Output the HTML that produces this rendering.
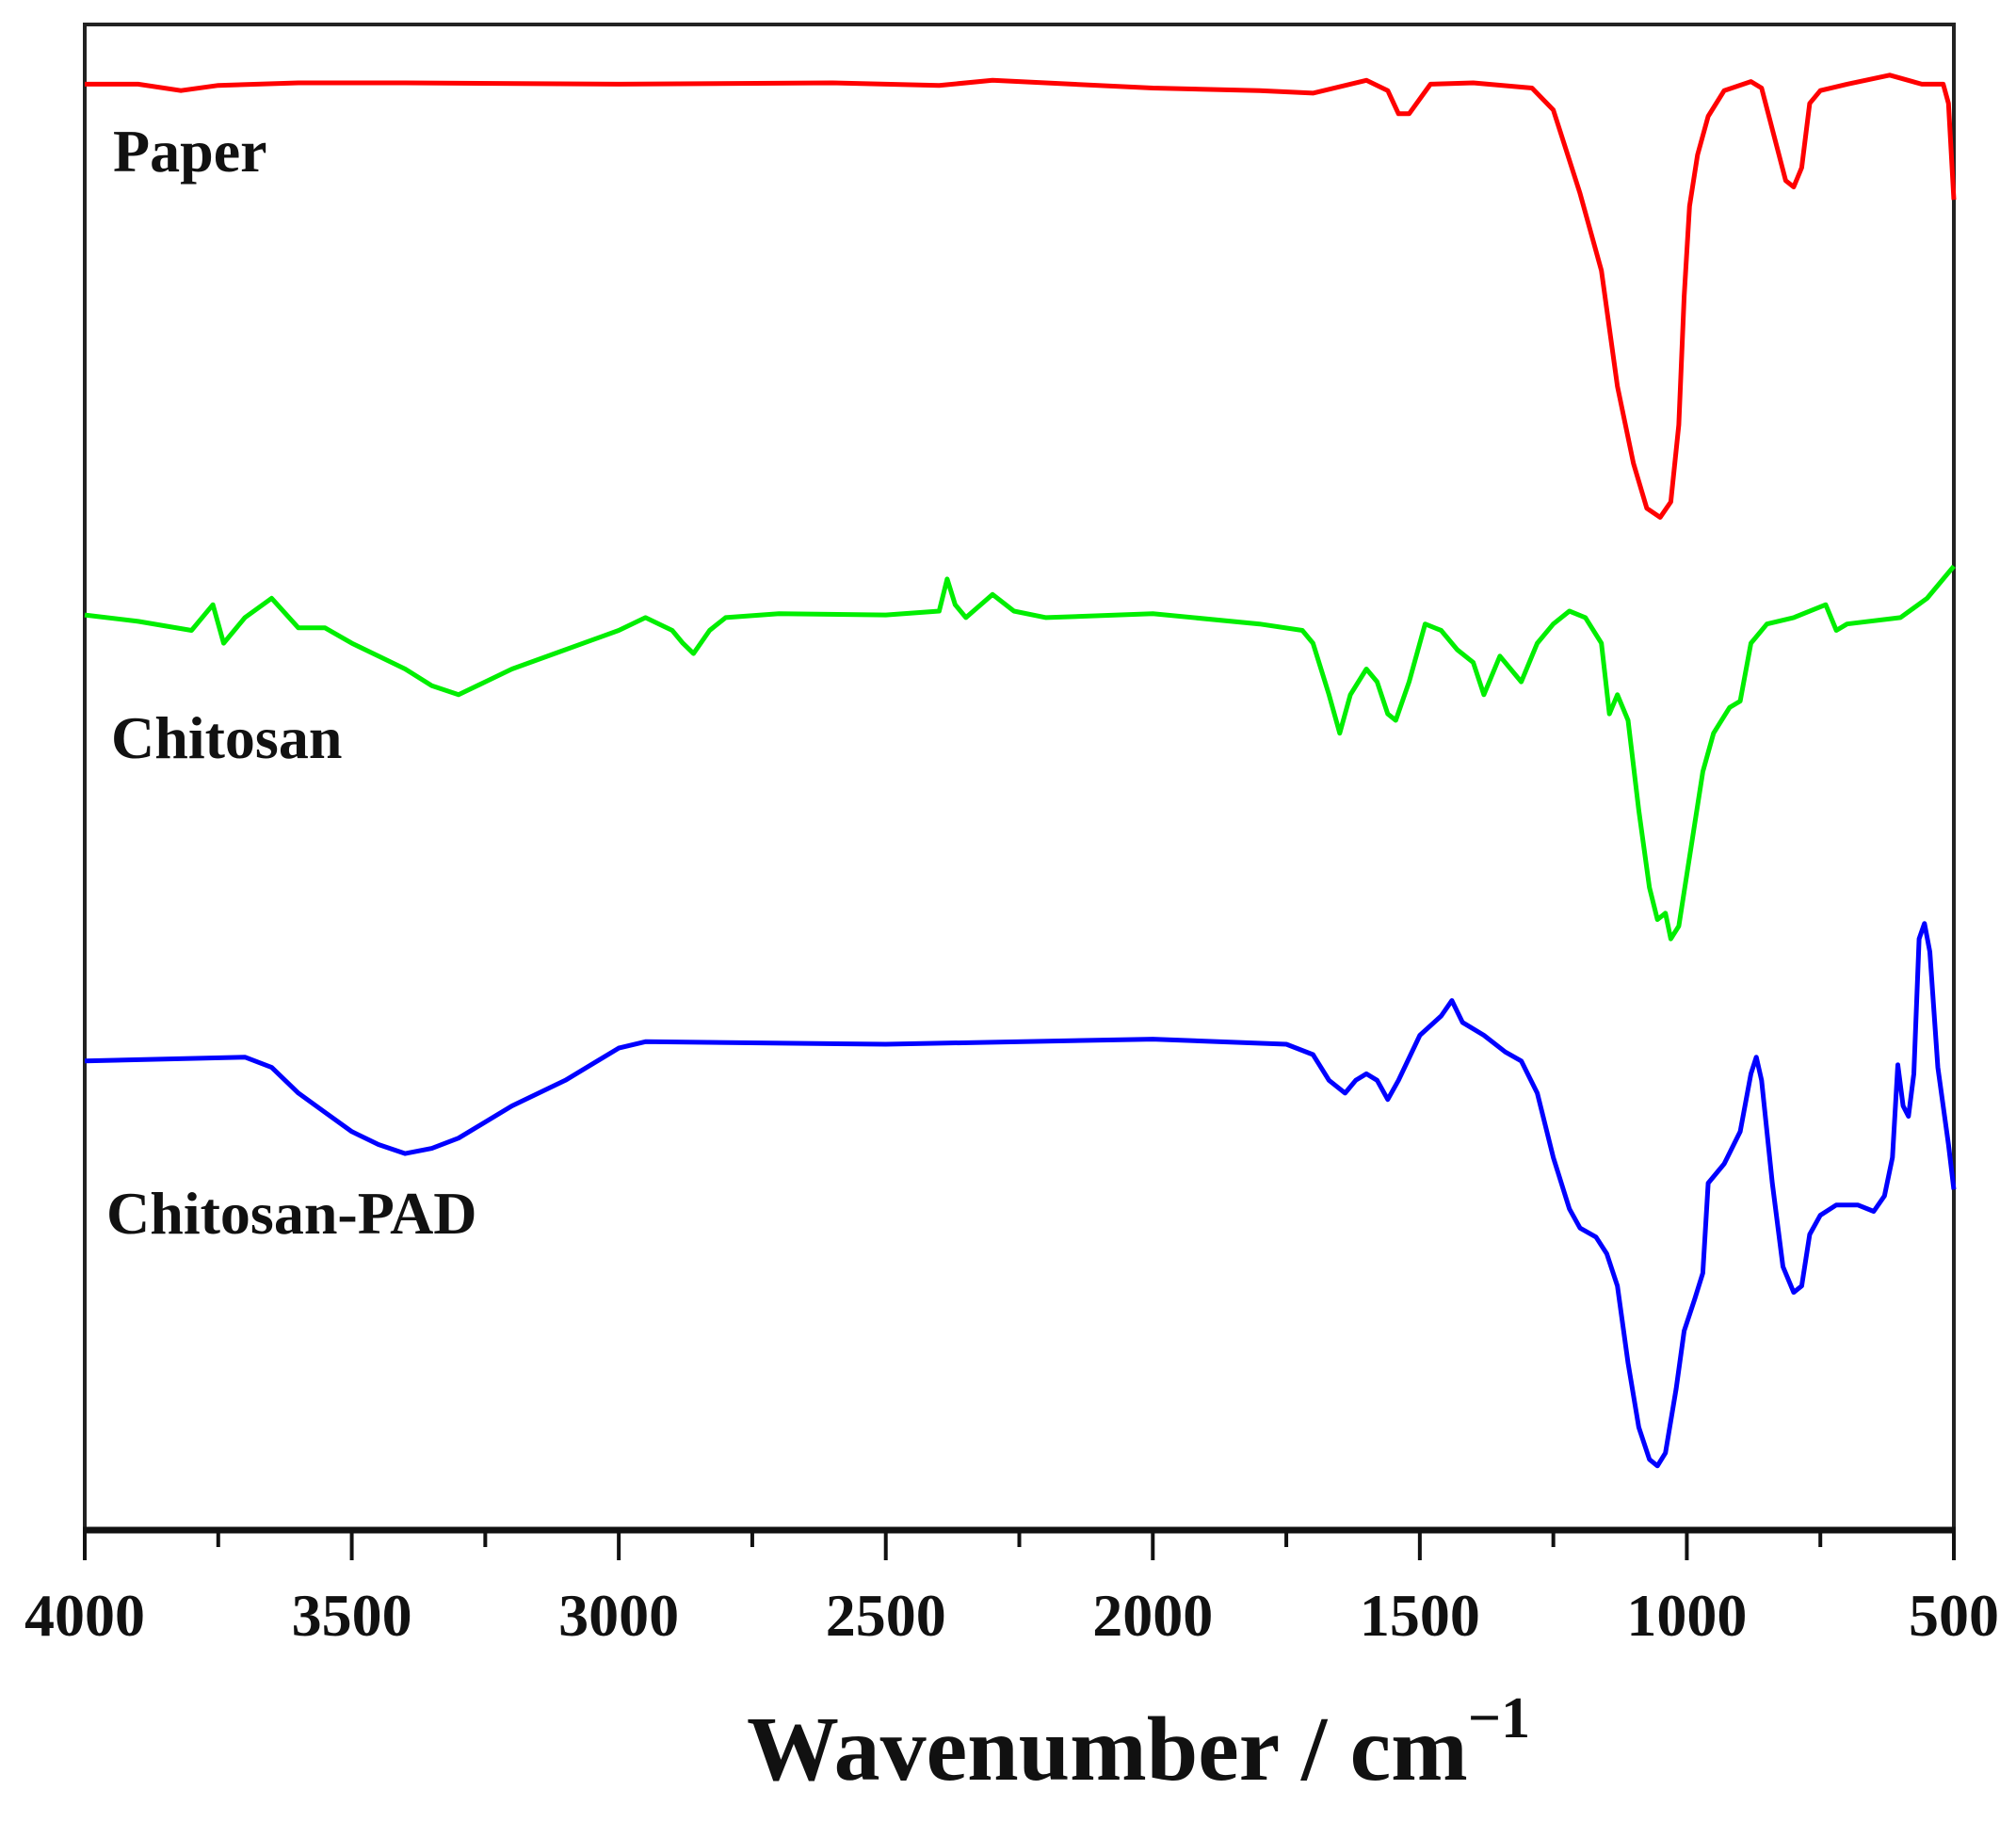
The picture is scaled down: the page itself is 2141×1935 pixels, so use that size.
<!DOCTYPE html>
<html><head><meta charset="utf-8"><style>
html,body{margin:0;padding:0;background:#fff;}
svg text{font-family:"Liberation Serif",serif;font-weight:bold;fill:#111;}
</style></head><body>
<svg id="chart" width="2141" height="1930" viewBox="0 0 2141 1930" xmlns="http://www.w3.org/2000/svg">
<rect x="90" y="26" width="1985" height="1599" fill="none" stroke="#222" stroke-width="4"/>
<line x1="88" y1="1625" x2="2077" y2="1625" stroke="#111" stroke-width="7"/>
<g id="ticks"></g>
<g id="series"></g>
<text x="120" y="182" font-size="64">Paper</text>
<text x="118" y="805" font-size="64">Chitosan</text>
<text x="113" y="1310" font-size="64">Chitosan-PAD</text>
<text x="793" y="1890" font-size="98">Wavenumber / cm<tspan font-size="62" dy="-45">−1</tspan></text>
</svg>
<script>
const tickLabels = [4000,3500,3000,2500,2000,1500,1000,500];
const minorTicks = [3750,3250,2750,2250,1750,1250,750];
const paperWn = [4000,3900,3820,3750,3600,3400,3000,2600,2400,2300,2000,1800,1700,1600,1560,1540,1520,1480,1400,1290,1250,1200,1160,1130,1100,1075,1050,1030,1015,1005,995,980,960,930,880,860,840,815,800,785,770,750,700,620,560,520,510,500];
const paperVal = [1125,1125,1120,1124,1126,1126,1125,1126,1124,1128,1122,1120,1118,1128,1120,1102,1102,1125,1126,1122,1105,1040,980,890,830,795,788,800,860,960,1030,1070,1100,1120,1127,1122,1090,1050,1045,1060,1110,1120,1125,1132,1125,1125,1110,1035];
const chitWn = [4000,3900,3800,3760,3740,3700,3650,3600,3550,3500,3450,3400,3350,3300,3250,3200,3100,3000,2950,2900,2880,2860,2830,2800,2700,2500,2400,2385,2370,2350,2300,2260,2200,2000,1800,1720,1700,1670,1650,1630,1600,1580,1560,1545,1520,1490,1460,1430,1400,1380,1350,1310,1280,1250,1220,1190,1160,1145,1130,1110,1090,1070,1055,1040,1030,1015,1000,985,970,950,920,900,880,850,800,740,720,700,600,550,520,500];
const chitVal = [712,707,700,720,690,710,725,702,702,690,680,670,657,650,660,670,685,700,710,700,690,682,700,710,713,712,715,740,720,710,728,715,710,713,705,700,690,650,620,650,670,660,635,630,660,705,700,685,675,650,680,660,690,705,715,710,690,635,650,630,560,500,475,480,460,470,510,550,590,620,640,645,690,705,710,720,700,705,710,725,740,750];
const padWn = [4000,3700,3650,3600,3550,3500,3450,3400,3350,3300,3200,3100,3000,2950,2500,2000,1750,1700,1670,1640,1620,1600,1580,1560,1540,1500,1460,1440,1420,1380,1340,1310,1280,1250,1220,1200,1170,1150,1130,1110,1090,1070,1055,1040,1020,1005,985,970,960,950,930,900,880,870,860,840,820,800,785,770,750,720,680,650,630,615,605,595,585,575,565,555,545,530,510,500];
const padVal = [365,368,360,340,325,310,300,293,297,305,330,350,375,380,378,382,378,370,350,340,350,355,350,335,350,385,400,412,395,385,372,365,340,290,250,235,228,215,190,130,80,55,50,60,110,155,180,200,270,275,285,310,355,368,350,270,205,185,190,230,245,253,253,248,260,290,362,330,322,355,460,472,450,360,300,265];
const X0=90, X1=2075, YB=1625, K=1.365;
const xs = wn => X0 + (4000 - wn) / 3500 * (X1 - X0);
const ys = v => YB - v * K;
const NS = 'http://www.w3.org/2000/svg';
const tg = document.getElementById('ticks');
tickLabels.forEach(t => {
  const l = document.createElementNS(NS,'line');
  
  
  l.setAttribute('x1',xs(t)); l.setAttribute('x2',xs(t));
  l.setAttribute('y1',YB); l.setAttribute('y2',YB+32);
  l.setAttribute('stroke','#111'); l.setAttribute('stroke-width','4');
  tg.appendChild(l);
  const tx = document.createElementNS(NS,'text');
  
  
  tx.setAttribute('x',xs(t)); tx.setAttribute('y',1737);
  tx.setAttribute('text-anchor','middle'); tx.setAttribute('font-size','64');
  tx.textContent = t;
  tg.appendChild(tx);
});
minorTicks.forEach(t => {
  const l = document.createElementNS(NS,'line');
  
  
  l.setAttribute('x1',xs(t)); l.setAttribute('x2',xs(t));
  l.setAttribute('y1',YB); l.setAttribute('y2',YB+18);
  l.setAttribute('stroke','#111'); l.setAttribute('stroke-width','4');
  tg.appendChild(l);
});
const sg = document.getElementById('series');
function drawSeries(wn, vals, color, name){
  const p = document.createElementNS(NS,'path');
  
  
  p.setAttribute('d', wn.map((w,i)=>(i?'L':'M')+xs(w).toFixed(1)+','+ys(vals[i]).toFixed(1)).join(''));
  p.setAttribute('fill','none'); p.setAttribute('stroke',color);
  p.setAttribute('stroke-width','5'); p.setAttribute('stroke-linejoin','round');
  sg.appendChild(p);
}
drawSeries(paperWn, paperVal, '#ff0000', 'paper-spectrum');
drawSeries(chitWn, chitVal, '#00ee00', 'chitosan-spectrum');
drawSeries(padWn, padVal, '#0000ff', 'chitosan-pad-spectrum');
</script>
</body></html>
